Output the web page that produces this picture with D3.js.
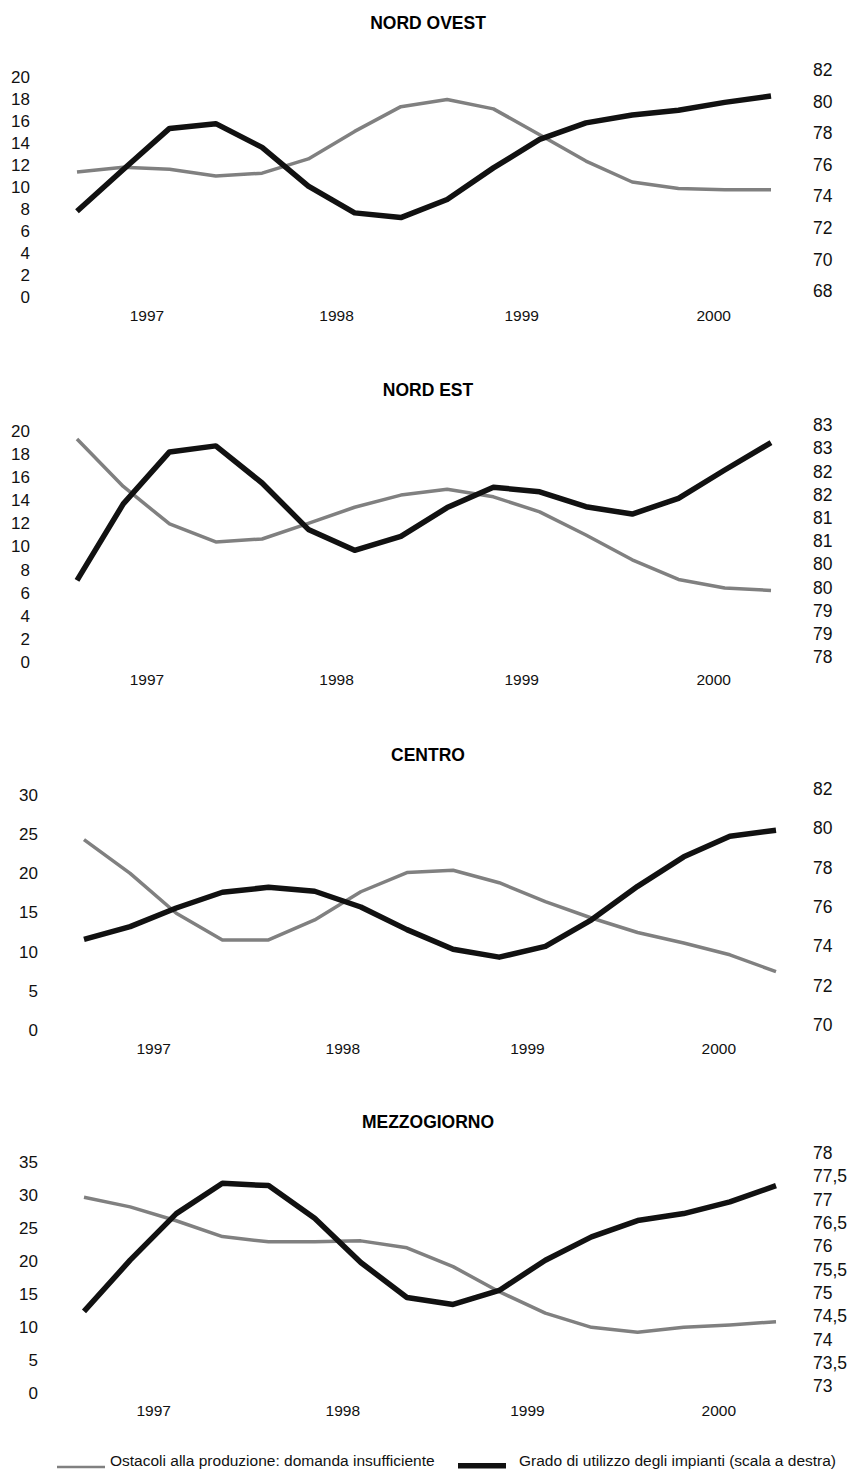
<!DOCTYPE html>
<html>
<head>
<meta charset="utf-8">
<script src="https://cdn.jsdelivr.net/npm/d3@7"></script>
<style>
  body { margin: 0; background: #fff; }
  svg { display: block; font-family: "Liberation Sans", Arial, sans-serif; }
</style>
</head>
<body>
<svg id="chart" width="856" height="1472"></svg>
<script>
// quarterly observations, 1997 I - 2000 IV
const quarters = ["1997 I", "1997 II", "1997 III", "1997 IV",
                  "1998 I", "1998 II", "1998 III", "1998 IV",
                  "1999 I", "1999 II", "1999 III", "1999 IV",
                  "2000 I", "2000 II", "2000 III", "2000 IV"];
const yearLabels = ["1997", "1998", "1999", "2000"];
const yearTickAt = [1.5, 5.6, 9.6, 13.75];   // position on the quarter index

const regions = ["NORD OVEST", "NORD EST", "CENTRO", "MEZZOGIORNO"];

// Ostacoli alla produzione: domanda insufficiente (left scale)
const domandaNordOvest = [11.4, 11.85, 11.65, 11.05, 11.3, 12.6, 15.1, 17.35, 18.0, 17.15, 14.8, 12.4, 10.5, 9.9, 9.8, 9.8];
const domandaNordEst   = [19.3, 15.2, 11.95, 10.4, 10.65, 12.0, 13.4, 14.45, 14.95, 14.3, 13.0, 11.0, 8.85, 7.15, 6.4, 6.2];
const domandaCentro    = [24.3, 20.0, 14.9, 11.5, 11.5, 14.05, 17.65, 20.1, 20.4, 18.8, 16.4, 14.3, 12.45, 11.1, 9.6, 7.45];
const domandaMezzog    = [29.65, 28.2, 26.1, 23.7, 22.9, 22.9, 23.05, 22.0, 19.15, 15.35, 12.1, 9.95, 9.2, 9.95, 10.3, 10.8];

// Grado di utilizzo degli impianti (right scale)
const utilizzoNordOvest = [73.05, 75.7, 78.3, 78.6, 77.1, 74.65, 72.95, 72.65, 73.8, 75.8, 77.6, 78.65, 79.15, 79.45, 79.95, 80.35];
const utilizzoNordEst   = [79.65, 81.3, 82.42, 82.55, 81.75, 80.75, 80.3, 80.6, 81.22, 81.66, 81.56, 81.24, 81.08, 81.42, 82.03, 82.62];
const utilizzoCentro    = [74.35, 75.0, 75.95, 76.75, 77.0, 76.8, 76.0, 74.85, 73.85, 73.45, 74.0, 75.35, 77.05, 78.55, 79.6, 79.9];
const utilizzoMezzog    = [74.6, 75.7, 76.7, 77.35, 77.3, 76.6, 75.65, 74.9, 74.75, 75.05, 75.7, 76.2, 76.55, 76.7, 76.95, 77.3];

const leftTicks  = [d3.range(0, 21, 2), d3.range(0, 21, 2), d3.range(0, 31, 5), d3.range(0, 36, 5)];
const rightTicks = [d3.range(68, 83, 2), d3.range(78, 83.01, 0.5), d3.range(70, 83, 2), d3.range(73, 78.01, 0.5)];

const legendLabels = ["Ostacoli alla produzione: domanda insufficiente",
                      "Grado di utilizzo degli impianti (scala a destra)"];

const domanda  = [domandaNordOvest, domandaNordEst, domandaCentro, domandaMezzog];
const utilizzo = [utilizzoNordOvest, utilizzoNordEst, utilizzoCentro, utilizzoMezzog];

// panel geometry (pixel layout of each block)
const layout = [
  { x0: 77, x1: 771, leftX: 30, title: 23,   years: 319,  lTop: 77.5, lBot: 297.5, rTop: 70,   rBot: 291 },
  { x0: 77, x1: 771, leftX: 30, title: 390,  years: 683,  lTop: 431,  lBot: 662,   rTop: 425,  rBot: 657 },
  { x0: 84, x1: 776, leftX: 38, title: 755,  years: 1052, lTop: 795,  lBot: 1030,  rTop: 789,  rBot: 1025 },
  { x0: 84, x1: 776, leftX: 38, title: 1122, years: 1414, lTop: 1162, lBot: 1393,  rTop: 1153, rBot: 1386 }
];

const greyColor = "#808080";
const blackColor = "#111";
const fmtRight = [d3.format("d"), v => Math.round(v).toString(), d3.format("d"),
                  v => d3.format(".1~f")(v).replace(".", ",")];

const svg = d3.select("#chart");

regions.forEach((name, i) => {
    const L = layout[i];
    const g = svg.append("g");

    const x = d3.scaleLinear().domain([0, quarters.length - 1]).range([L.x0, L.x1]);
    const lt = leftTicks[i], rt = rightTicks[i];
    const yL = d3.scaleLinear().domain([lt[0], lt[lt.length - 1]]).range([L.lBot, L.lTop]);
    const yR = d3.scaleLinear().domain([rt[0], rt[rt.length - 1]]).range([L.rBot, L.rTop]);

    g.append("text")
        .attr("x", 428).attr("y", L.title)
        .attr("dy", "0.35em")
        .attr("text-anchor", "middle")
        .style("font-weight", "bold")
        .style("font-size", "17.5px")
        .text(name);

    // left axis (no domain line, only labels)
    const axL = g.append("g")
        .attr("transform", `translate(${L.leftX},0)`)
        .call(d3.axisLeft(yL).tickValues(lt).tickSize(0).tickPadding(0));
    axL.select(".domain").remove();
    axL.selectAll("text").style("font-size", "17px").attr("fill", "#111");

    const axR = g.append("g")
        .attr("transform", "translate(813,0)")
        .call(d3.axisRight(yR).tickValues(rt).tickSize(0).tickPadding(0).tickFormat(fmtRight[i]));
    axR.select(".domain").remove();
    axR.selectAll("text").style("font-size", "17.5px").attr("fill", "#111");

    const axB = g.append("g")
        .attr("transform", `translate(0,${L.years - 9})`)
        .call(d3.axisBottom(x).tickValues(yearTickAt).tickSize(0).tickPadding(0)
            .tickFormat((d, k) => yearLabels[k]));
    axB.select(".domain").remove();
    axB.selectAll("text").style("font-size", "15.5px").attr("fill", "#111");

    const lineL = d3.line().x((d, k) => x(k)).y(d => yL(d));
    const lineR = d3.line().x((d, k) => x(k)).y(d => yR(d));

    g.append("path")
        .datum(domanda[i])
        .attr("fill", "none")
        .attr("stroke", greyColor)
        .attr("stroke-width", 3.5)
        .attr("stroke-linejoin", "round")
        .attr("d", lineL);

    g.append("path")
        .datum(utilizzo[i])
        .attr("fill", "none")
        .attr("stroke", blackColor)
        .attr("stroke-width", 5.5)
        .attr("stroke-linejoin", "round")
        .attr("d", lineR);
});

// legend
const lg = svg.append("g").style("font-size", "15.5px");
lg.append("line")
    .attr("x1", 57).attr("x2", 105).attr("y1", 1467).attr("y2", 1467)
    .attr("stroke", greyColor).attr("stroke-width", 2.5);
lg.append("text").attr("x", 110).attr("y", 1461).attr("dy", "0.35em")
    .attr("fill", "#111").text(legendLabels[0]);
lg.append("rect")
    .attr("x", 458).attr("y", 1463).attr("width", 48).attr("height", 5.5)
    .attr("fill", blackColor);
lg.append("text").attr("x", 519).attr("y", 1461).attr("dy", "0.35em")
    .attr("fill", "#111").text(legendLabels[1]);
</script>
</body>
</html>
